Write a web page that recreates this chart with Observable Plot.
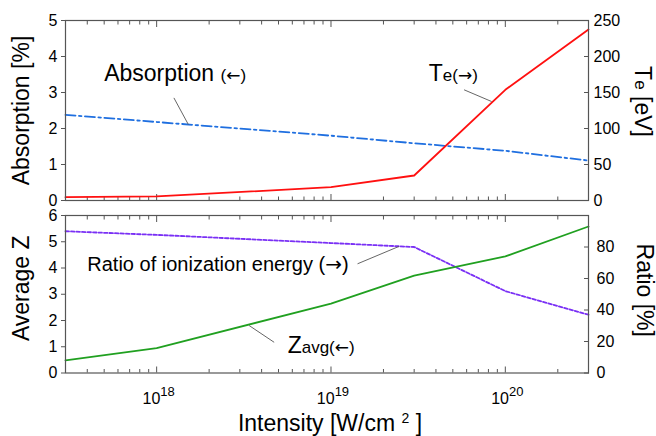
<!DOCTYPE html>
<html><head><meta charset="utf-8">
<script src="https://cdn.jsdelivr.net/npm/d3@7"></script>
<script src="https://cdn.jsdelivr.net/npm/@observablehq/plot@0.6"></script>
<style>
body{margin:0;background:#fff;}
#chart{position:relative;width:656px;height:436px;}
#chart svg{position:absolute;left:0;overflow:visible;}
</style></head><body><div id="chart"></div>
<script>
// ---- data ----
const intensity  = [3e17, 1e18, 1e19, 3e19, 1e20, 3e20];      // W/cm^2
const absorption = [2.38, 2.18, 1.80, 1.59, 1.38, 1.11];      // %
const te         = [4.6, 5.6, 18.5, 34.7, 153.7, 237.5];      // eV
const zavg       = [0.48, 0.95, 2.64, 3.71, 4.44, 5.58];
const ratio      = [90, 87.7, 82.5, 80, 52, 37];              // %

// ---- ticks ----
const xDomain = [3e17, 3e20];
const majorTicks = [1e18, 1e19, 1e20];
const minorTicks = [];
for (let d = 17; d <= 20; d++) for (let k = 2; k <= 9; k++) { const v = k * Math.pow(10, d); if (v >= xDomain[0] && v <= xDomain[1]) minorTicks.push(v); }
const absTicks = [0, 1, 2, 3, 4, 5];
const teTicks = [0, 50, 100, 150, 200, 250];
const zTicks = [0, 1, 2, 3, 4, 5, 6];
const ratioTicks = [0, 20, 40, 60, 80];
const TE_PER_UNIT = 50;          // 5 % <-> 250 eV
const RATIO_PER_UNIT = 100 / 6;  // 6 <-> 100 %

// ---- annotations ----
const topLabels = [
  {x: 5.0e17, y: 3.31, text: "Absorption _{(←)}"},
  {x: 3.64e19, y: 3.33, text: "T_{e(→)}"}
];
const topLeaders = [
  {x1: 1.256e18, y1: 2.85, x2: 1.52e18, y2: 2.11},
  {x1: 5.8e19, y1: 3.075, x2: 8.34e19, y2: 2.75}
];
const botLabels = [
  {x: 5.64e18, y: 0.76, text: "Z_{avg(←)}"}
];
const botLabels2 = [
  {x: 4.0e17, y: 3.87, text: "Ratio of ionization energy (→)"}
];
const botLeaders = [
  {x1: 1.42e19, y1: 4.16, x2: 2.45e19, y2: 4.82},
  {x1: 3.39e18, y1: 1.81, x2: 4.72e18, y2: 1.17}
];

const FONT = '"Liberation Sans", Arial, Helvetica, sans-serif';
const AX = "#555";
const absRows = intensity.map((x, i) => ({x, y: absorption[i]}));
const teRows = intensity.map((x, i) => ({x, y: te[i] / TE_PER_UNIT}));
const zRows = intensity.map((x, i) => ({x, y: zavg[i]}));
const ratioRows = intensity.map((x, i) => ({x, y: ratio[i] / RATIO_PER_UNIT}));

function xTickMarks() {
  return [
    Plot.axisX({anchor: "bottom", ticks: majorTicks, tickSize: -6, fill: "none", label: null, stroke: AX}),
    Plot.axisX({anchor: "bottom", ticks: minorTicks, tickSize: -3.5, fill: "none", label: null, stroke: AX}),
    Plot.axisX({anchor: "top", ticks: majorTicks, tickSize: -6, fill: "none", label: null, stroke: AX}),
    Plot.axisX({anchor: "top", ticks: minorTicks, tickSize: -3.5, fill: "none", label: null, stroke: AX})
  ];
}
const baseStyle = {fontFamily: FONT, fontSize: "16px", background: "transparent", overflow: "visible", color: "#000"};

const topPlot = Plot.plot({
  width: 656, height: 207,
  marginTop: 20, marginBottom: 7, marginLeft: 65, marginRight: 68,
  x: {type: "log", domain: xDomain},
  y: {domain: [0, 5]},
  style: baseStyle,
  marks: [
    ...xTickMarks(),
    Plot.axisY({anchor: "left", ticks: absTicks, tickFormat: d => String(d), tickSize: 4, tickPadding: 4, label: null, stroke: AX, fontSize: 16}),
    Plot.axisY({anchor: "right", ticks: teTicks.map(v => v / TE_PER_UNIT), tickSize: -5, fill: "none", label: null, stroke: AX}),
    Plot.axisY({anchor: "right", ticks: teTicks.map(v => v / TE_PER_UNIT), tickFormat: d => String(Math.round(d * TE_PER_UNIT)), tickSize: 0, tickPadding: 5, label: null, fontSize: 16}),
    Plot.line(absRows, {x: "x", y: "y", stroke: "#1f6fe0", strokeWidth: 1.8, strokeDasharray: "10,3.5,2.5,3.5"}),
    Plot.line(teRows, {x: "x", y: "y", stroke: "#ff1010", strokeWidth: 1.8}),
    Plot.link(topLeaders, {x1: "x1", y1: "y1", x2: "x2", y2: "y2", stroke: "#555", strokeWidth: 0.9}),
    Plot.text(topLabels, {x: "x", y: "y", text: "text", textAnchor: "start", lineAnchor: "bottom", fontSize: 23, fill: "#000"}),
    Plot.text(["Absorption [%]"], {frameAnchor: "left", rotate: -90, dx: -36.5, textAnchor: "middle", lineAnchor: "bottom", fontSize: 23}),
    Plot.text(["T_{e} [eV]"], {frameAnchor: "right", rotate: 90, dx: 46, dy: -9, textAnchor: "middle", lineAnchor: "bottom", fontSize: 23}),
    Plot.frame({stroke: AX, strokeWidth: 1.2})
  ]
});

const bottomPlot = Plot.plot({
  width: 656, height: 229,
  marginTop: 8, marginBottom: 63.5, marginLeft: 65, marginRight: 68,
  x: {type: "log", domain: xDomain},
  y: {domain: [0, 6]},
  style: baseStyle,
  marks: [
    ...xTickMarks(),
    Plot.axisX({anchor: "bottom", ticks: majorTicks, tickFormat: d => "10^13{" + Math.round(Math.log10(d)) + "}", tickSize: 0, tickPadding: 20, dx: 2, label: null, fontSize: 16}),
    Plot.axisY({anchor: "left", ticks: zTicks, tickFormat: d => String(d), tickSize: 4, tickPadding: 4, label: null, stroke: AX, fontSize: 16}),
    Plot.axisY({anchor: "right", ticks: ratioTicks.map(v => v / RATIO_PER_UNIT), tickSize: -5, fill: "none", label: null, stroke: AX}),
    Plot.axisY({anchor: "right", ticks: ratioTicks.map(v => v / RATIO_PER_UNIT), tickFormat: d => String(Math.round(d * RATIO_PER_UNIT)), tickSize: 0, tickPadding: 8, label: null, fontSize: 16}),
    Plot.line(ratioRows, {x: "x", y: "y", stroke: "#7a30f5", strokeWidth: 1.8, strokeDasharray: "3.5,2"}),
    Plot.line(zRows, {x: "x", y: "y", stroke: "#20a020", strokeWidth: 1.8}),
    Plot.link(botLeaders, {x1: "x1", y1: "y1", x2: "x2", y2: "y2", stroke: "#555", strokeWidth: 0.9}),
    Plot.text(botLabels, {x: "x", y: "y", text: "text", textAnchor: "start", lineAnchor: "bottom", fontSize: 23, fill: "#000"}),
    Plot.text(botLabels2, {x: "x", y: "y", text: "text", textAnchor: "start", lineAnchor: "bottom", fontSize: 20, fill: "#000"}),
    Plot.text(["Average Z"], {frameAnchor: "left", rotate: -90, dx: -36.5, dy: -6, textAnchor: "middle", lineAnchor: "bottom", fontSize: 23}),
    Plot.text(["Ratio [%]"], {frameAnchor: "right", rotate: 90, dx: 48, dy: -4, textAnchor: "middle", lineAnchor: "bottom", fontSize: 23}),
    Plot.text(["Intensity [W/cm ^14{2} ]"], {frameAnchor: "bottom", dx: 3, dy: 57.5, textAnchor: "middle", lineAnchor: "bottom", fontSize: 23}),
    Plot.frame({stroke: AX, strokeWidth: 1.2})
  ]
});

// mixed-size text: _{..} smaller on the baseline, ^{..} raised superscript; arrows in DejaVu Sans
const NS = "http://www.w3.org/2000/svg";
function addSpan(t, str, attrs) {
  str.split(/([←→])/).forEach(piece => {
    if (!piece) return;
    const ts = document.createElementNS(NS, "tspan");
    ts.textContent = piece;
    for (const k in attrs) if (attrs[k] != null) ts.setAttribute(k, attrs[k]);
    if (piece === "←" || piece === "→") ts.setAttribute("font-family", '"DejaVu Sans", sans-serif');
    t.appendChild(ts);
    attrs = Object.assign({}, attrs, {dy: null});
  });
}
function richify(svg) {
  svg.querySelectorAll('g[aria-label="x-axis tick label"]').forEach(g => g.setAttribute("font-size", 16));
  svg.querySelectorAll("text").forEach(t => {
    const s = t.textContent;
    if (!/[_^]\d*\{|[←→]/.test(s)) return;
    const re = /([_^])(\d*)\{([^}]*)\}/g;
    let last = 0, m; const parts = [];
    while ((m = re.exec(s))) {
      if (m.index > last) parts.push({t: s.slice(last, m.index)});
      parts.push({t: m[3], k: m[1], size: m[2] ? +m[2] : (m[1] === "^" ? 12 : 17)});
      last = re.lastIndex;
    }
    if (last < s.length) parts.push({t: s.slice(last)});
    t.textContent = "";
    let shift = 0;
    for (const p of parts) {
      let target = 0;
      const attrs = {};
      if (p.k) attrs["font-size"] = p.size;
      if (p.k === "^") target = -Math.round(p.size * 0.6);
      if (target !== shift) { attrs.dy = target - shift; shift = target; }
      addSpan(t, p.t, attrs);
    }
  });
}
richify(topPlot); richify(bottomPlot);
topPlot.style.top = "0px";
bottomPlot.style.top = "207px";
const chart = document.getElementById("chart");
chart.appendChild(topPlot);
chart.appendChild(bottomPlot);
</script></body></html>
